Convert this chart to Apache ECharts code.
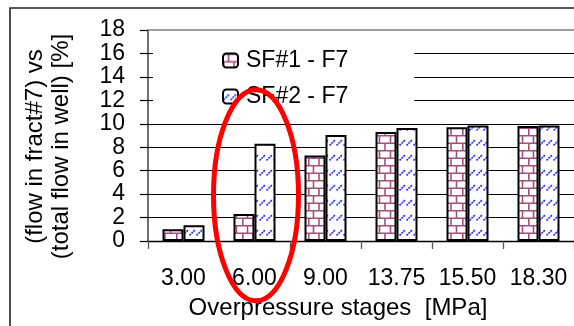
<!DOCTYPE html>
<html>
<head>
<meta charset="utf-8">
<script src="https://cdn.jsdelivr.net/npm/echarts@6/dist/echarts.min.js"></script>
<style>
  html, body { margin: 0; padding: 0; background: #fff; }
  #chart { width: 574px; height: 326px; }
</style>
</head>
<body>
<div id="chart"></div>
<script>
// Overpressure stages and the share of well flow through fracture #7
const categories = ['3.00', '6.00', '9.00', '13.75', '15.50', '18.30'];
const seriesNames = ['SF#1 - F7', 'SF#2 - F7'];
const sf1Values = [1.0, 2.3, 7.3, 9.3, 9.7, 9.8];
const sf2Values = [1.35, 8.3, 9.05, 9.65, 9.85, 9.85];
const yMin = 0, yMax = 18, yStep = 2;
const xAxisTitle = 'Overpressure stages  [MPa]';
const yAxisTitle = '(flow in fract#7) vs\n(total flow in well) [%]';

const FONT = '"Liberation Sans", Arial, sans-serif';

// Brick fill for the first series
function brickPattern() {
  const c = document.createElement('canvas');
  const w = 22, h = 15;
  c.width = w; c.height = h;
  const g = c.getContext('2d');
  g.fillStyle = '#ffffff';
  g.fillRect(0, 0, w, h);
  g.strokeStyle = '#a3507c';
  g.lineWidth = 1.6;
  g.beginPath();
  // horizontal mortar lines
  g.moveTo(0, 0.8); g.lineTo(w, 0.8);
  g.moveTo(0, 8.3); g.lineTo(w, 8.3);
  // vertical joints, staggered per row
  g.moveTo(5.5, 0.8); g.lineTo(5.5, 8.3);
  g.moveTo(16.5, 0.8); g.lineTo(16.5, 8.3);
  g.moveTo(0.8, 8.3); g.lineTo(0.8, 15);
  g.moveTo(11, 8.3); g.lineTo(11, 15);
  g.stroke();
  return { image: c, repeat: 'repeat' };
}

// Dashed diagonal fill for the second series
function diagPattern() {
  const c = document.createElement('canvas');
  const w = 7, h = 15;
  c.width = w; c.height = h;
  const g = c.getContext('2d');
  g.fillStyle = '#ffffff';
  g.fillRect(0, 0, w, h);
  g.strokeStyle = '#2f2fff';
  g.lineWidth = 1.7;
  g.setLineDash([2, 0.8]);
  g.beginPath();
  g.moveTo(0.5, 10.5); g.lineTo(6.5, 4.5);
  g.stroke();
  return { image: c, repeat: 'repeat' };
}

const chart = echarts.init(document.getElementById('chart'), null, { renderer: 'canvas' });

const splitColors = [];
for (let v = yMin; v <= yMax; v += yStep) splitColors.push(v === yMax ? '#a0a0a0' : '#000000');

chart.setOption({
  animation: false,
  backgroundColor: '#ffffff',
  textStyle: { fontFamily: FONT, color: '#000' },
  grid: { left: 148, top: 30, width: 430, height: 211, containLabel: false },
  legend: {
    orient: 'vertical',
    left: 153,
    top: 37,
    padding: [12, 66, 10, 69],
    backgroundColor: '#ffffff',
    itemWidth: 15,
    itemHeight: 14,
    itemGap: 13,
    textStyle: { fontFamily: FONT, fontSize: 23, color: '#000', padding: [0, 0, 0, 3] },
    data: seriesNames
  },
  xAxis: [{
    type: 'category',
    data: categories,
    boundaryGap: true,
    axisLine: { lineStyle: { color: '#000', width: 1.3 } },
    axisTick: { show: true, length: 8, lineStyle: { color: '#555', width: 1.3 } },
    axisLabel: { fontFamily: FONT, fontSize: 23, color: '#000', margin: 26, interval: 0 },
    name: xAxisTitle,
    nameLocation: 'middle',
    nameGap: 55,
    nameTextStyle: { fontFamily: FONT, fontSize: 24, color: '#000', padding: [0, 46, 0, 0] }
  }, {
    type: 'category',
    position: 'top',
    data: categories,
    axisLine: { lineStyle: { color: '#a0a0a0', width: 2 } },
    axisTick: { show: false },
    axisLabel: { show: false }
  }],
  yAxis: {
    type: 'value',
    min: yMin,
    max: yMax,
    interval: yStep,
    axisLine: { show: true, lineStyle: { color: '#404040', width: 1.5 } },
    axisTick: { show: true, length: 8, lineStyle: { color: '#000', width: 1.2 } },
    axisLabel: { fontFamily: FONT, fontSize: 23, color: '#000', margin: 23 },
    splitLine: { show: true, lineStyle: { color: splitColors, width: 1.2 } },
    name: yAxisTitle,
    nameLocation: 'middle',
    nameRotate: 90,
    nameGap: 74,
    nameTextStyle: { fontFamily: FONT, fontSize: 24, lineHeight: 26, color: '#000', padding: [0, 22, 0, 0] }
  },
  series: [{
    name: seriesNames[0],
    type: 'bar',
    data: sf1Values,
    barWidth: 21,
    barGap: '0%',
    itemStyle: { color: brickPattern(), borderColor: '#000', borderWidth: 2 }
  }, {
    name: seriesNames[1],
    type: 'bar',
    data: sf2Values,
    barWidth: 21,
    barGap: '0%',
    itemStyle: { color: diagPattern(), borderColor: '#000', borderWidth: 2 }
  }]
});

// Outer frame and the red highlight ring around the 6.00 MPa stage
const ringCenter = chart.convertToPixel({ xAxisIndex: 0, yAxisIndex: 0 }, ['6.00', 3.9]);
chart.setOption({
  graphic: [{
    type: 'rect',
    shape: { x: 10, y: 8, width: 700, height: 400 },
    style: { fill: null, stroke: '#222', lineWidth: 1.6 },
    silent: true,
    z: 100
  }, {
    type: 'ellipse',
    shape: { cx: ringCenter[0] + 1.5, cy: ringCenter[1], rx: 42.5, ry: 105.5 },
    style: { fill: null, stroke: '#ff0000', lineWidth: 5 },
    silent: true,
    z: 100
  }]
});
</script>
</body>
</html>
